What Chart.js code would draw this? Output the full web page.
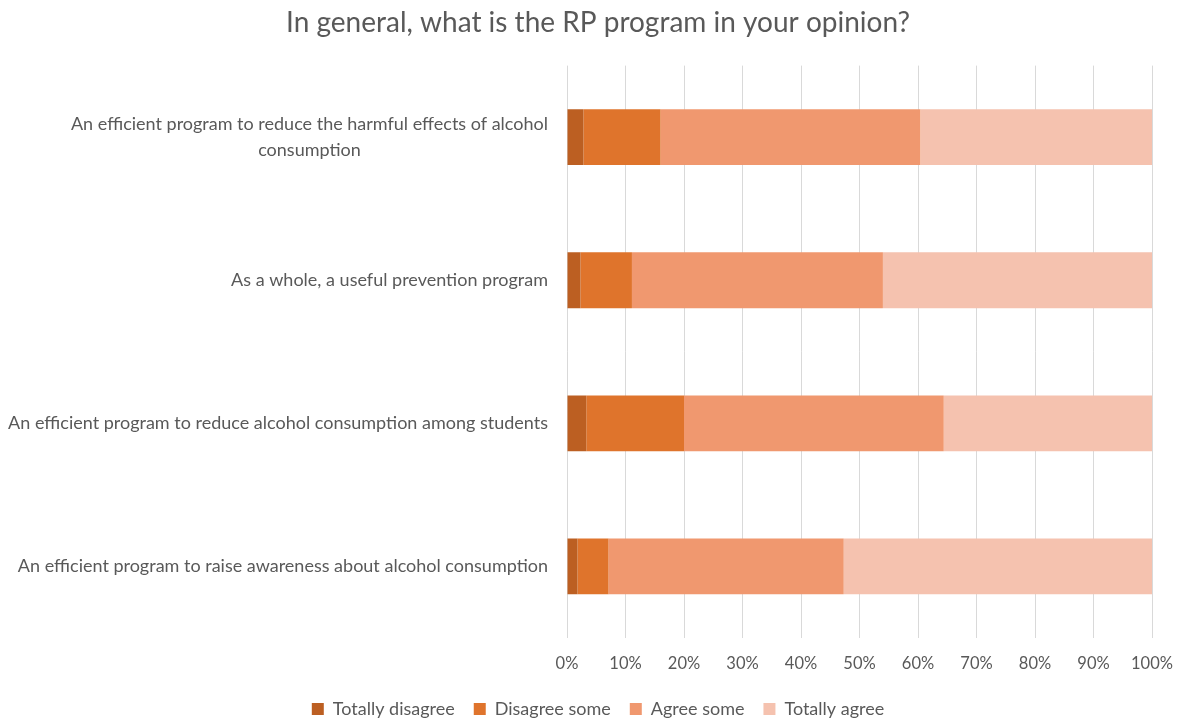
<!DOCTYPE html>
<html>
<head>
<meta charset="utf-8">
<style>
  html, body { margin: 0; padding: 0; background: #ffffff; }
  #wrap { width: 1180px; height: 720px; }
</style>
<script src="https://cdn.jsdelivr.net/npm/chart.js@4.4.1/dist/chart.umd.min.js"></script>
</head>
<body>
<div id="wrap"><canvas id="c" width="1180" height="720"></canvas></div>
<script>
// Survey statements (first one wraps onto two lines)
const categories = [
  ['An efficient program to reduce the harmful effects of alcohol', 'consumption'],
  ['As a whole, a useful prevention program'],
  ['An efficient program to reduce alcohol consumption among students'],
  ['An efficient program to raise awareness about alcohol consumption']
];

// Share of answers per statement, in percent
const totallyDisagree = [2.8, 2.3, 3.3, 1.8];
const disagreeSome    = [13.2, 8.8, 16.7, 5.3];
const agreeSome       = [44.4, 42.9, 44.4, 40.2];
const totallyAgree    = [39.6, 46.0, 35.6, 52.7];

const seriesNames = ['Totally disagree', 'Disagree some', 'Agree some', 'Totally agree'];
const xTicks = [0, 10, 20, 30, 40, 50, 60, 70, 80, 90, 100];

const FONT = 'Lato, "Open Sans", sans-serif';
const TEXT = '#595959';

// Category labels drawn centred line-by-line, right edge aligned to the axis
const categoryLabels = {
  id: 'categoryLabels',
  afterDraw(chart) {
    const { ctx, scales } = chart;
    const y = scales.y;
    const rightEdge = y.right - 19;
    const lineH = 26;
    ctx.save();
    ctx.font = '18px ' + FONT;
    ctx.fillStyle = TEXT;
    ctx.textAlign = 'center';
    ctx.textBaseline = 'middle';
    categories.forEach((lines, i) => {
      const cy = y.getPixelForTick(i);
      const widest = Math.max(...lines.map(l => ctx.measureText(l).width));
      const cx = rightEdge - widest / 2;
      const top = cy - (lines.length - 1) * lineH / 2;
      lines.forEach((l, k) => ctx.fillText(l, cx, top + k * lineH));
    });
    ctx.restore();
  }
};

new Chart(document.getElementById('c'), {
  type: 'bar',
  data: {
    labels: categories.map(c => c.join(' ')),
    datasets: [
      { label: seriesNames[0], data: totallyDisagree, backgroundColor: '#BC5F22' },
      { label: seriesNames[1], data: disagreeSome,    backgroundColor: '#DF742C' },
      { label: seriesNames[2], data: agreeSome,       backgroundColor: '#F0986F' },
      { label: seriesNames[3], data: totallyAgree,    backgroundColor: '#F5C2AF' }
    ]
  },
  options: {
    indexAxis: 'y',
    responsive: false,
    animation: false,
    devicePixelRatio: 1,
    layout: { padding: { left: 44, right: 28, top: 0, bottom: -8 } },
    datasets: { bar: { categoryPercentage: 1, barPercentage: 0.39, borderWidth: 0 } },
    plugins: {
      title: {
        display: true,
        text: 'In general, what is the RP program in your opinion?',
        color: TEXT,
        font: { family: FONT, size: 28, weight: 'normal' },
        padding: { top: 6, bottom: 26 }
      },
      legend: {
        position: 'bottom',
        labels: {
          color: TEXT,
          font: { family: FONT, size: 18 },
          boxWidth: 12,
          boxHeight: 12,
          padding: 19
        }
      },
      tooltip: { enabled: false }
    },
    scales: {
      x: {
        stacked: true,
        min: 0,
        max: 100,
        afterBuildTicks(scale) { scale.ticks = xTicks.map(v => ({ value: v })); },
        ticks: {
          color: TEXT,
          font: { family: FONT, size: 16.5 },
          padding: 16,
          callback: v => v + '%'
        },
        grid: { color: '#d9d9d9', lineWidth: 1, drawTicks: false },
        border: { display: false },
        afterFit(scale) {
          scale.height = 43;
          scale.paddingLeft = 0;
          scale.paddingRight = 0;
        }
      },
      y: {
        stacked: true,
        ticks: { display: false },
        grid: { display: false },
        border: { display: false },
        afterFit(scale) { scale.width = 523; }
      }
    }
  },
  plugins: [categoryLabels]
});
</script>
</body>
</html>
